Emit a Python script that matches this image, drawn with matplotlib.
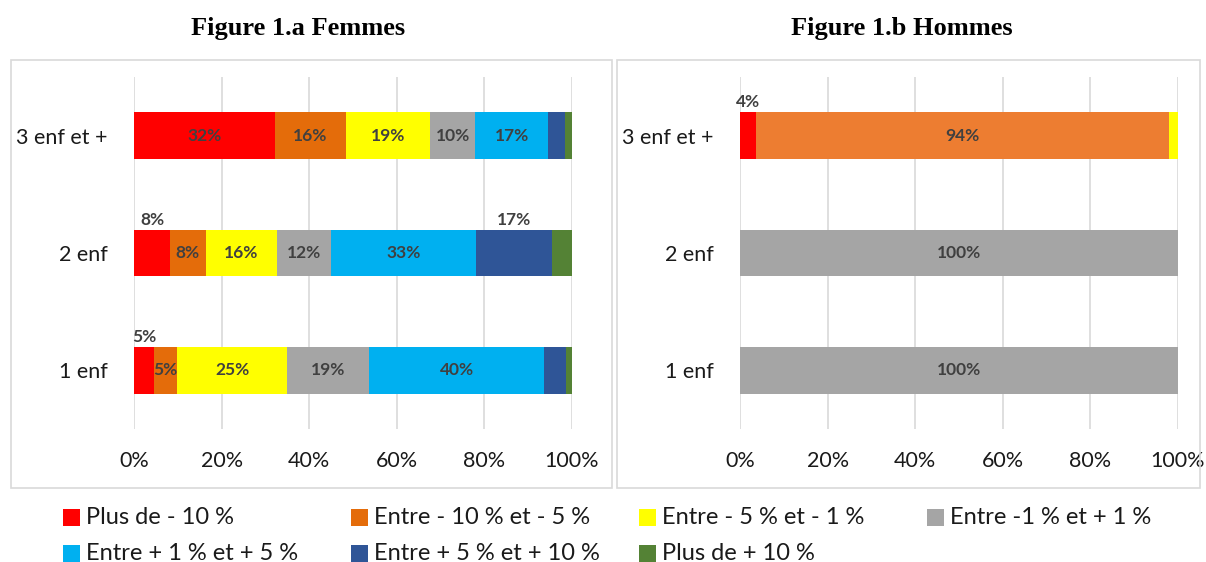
import matplotlib
matplotlib.use("Agg")
import matplotlib.pyplot as plt
from matplotlib.patches import Rectangle

# --- data -----------------------------------------------------------------
categories = ["1 enf", "2 enf", "3 enf et +"]

series_names = [
    "Plus de - 10 %",
    "Entre - 10 % et - 5 %",
    "Entre - 5 % et - 1 %",
    "Entre -1 % et + 1 %",
    "Entre + 1 % et + 5 %",
    "Entre + 5 % et + 10 %",
    "Plus de + 10 %",
]

# rows follow `categories`, columns follow `series_names` (shares in %)
femmes = [
    [4.6, 5.3, 25.0, 18.8, 40.0, 5.0, 1.3],
    [8.2, 8.2, 16.3, 12.3, 33.1, 17.4, 4.5],
    [32.2, 16.2, 19.2, 10.3, 16.6, 4.0, 1.5],
]
hommes = [
    [0.0, 0.0, 0.0, 100.0, 0.0, 0.0, 0.0],
    [0.0, 0.0, 0.0, 100.0, 0.0, 0.0, 0.0],
    [3.6, 94.4, 2.0, 0.0, 0.0, 0.0, 0.0],
]

# where each value label goes: "in" = centred in bar, "up" = above it, "" = none
femmes_lbl = [
    ["up", "in", "in", "in", "in", "", ""],
    ["up", "in", "in", "in", "in", "up", ""],
    ["in", "in", "in", "in", "in", "", ""],
]
hommes_lbl = [
    ["", "", "", "in", "", "", ""],
    ["", "", "", "in", "", "", ""],
    ["up", "in", "", "", "", "", ""],
]

# --- style ----------------------------------------------------------------
COLORS = ["#FF0000", "#E46C0A", "#FFFF00", "#A5A5A5", "#00B0F0", "#2F5597", "#548235"]
COLORS_H = ["#FF0000", "#ED7D31", "#FFFF00", "#A5A5A5", "#00B0F0", "#2F5597", "#548235"]
GRID = "#D9D9D9"
LBL = "#404040"
SANS = "Lato"

W, H = 1206, 562


def fx(px):
    return px / W


def fy(py):
    return 1 - py / H


def draw_panel(ax, data, labels, colors):
    left = [0.0] * len(categories)
    for j in range(len(series_names)):
        vals = [row[j] for row in data]
        ax.barh(range(len(categories)), vals, left=left, height=0.4,
                color=colors[j], edgecolor="none", zorder=2)
        for i, v in enumerate(vals):
            mode = labels[i][j]
            cx = left[i] + v / 2
            if mode == "in":
                ax.text(cx, i, "%d%%" % round(v), ha="center", va="center",
                        fontsize=12.5, fontweight="bold", color=LBL,
                        family=SANS, zorder=3)
            elif mode == "up":
                ax.text(cx, i + 0.215, "%d%%" % round(v), ha="center",
                        va="bottom", fontsize=12.5, fontweight="bold",
                        color=LBL, family=SANS, zorder=3)
            left[i] += v

    ax.set_xlim(0, 100)
    ax.set_ylim(-0.5, 2.5)
    ax.set_xticks(range(0, 101, 20))
    ax.set_xticklabels(["%d%%" % t for t in range(0, 101, 20)])
    ax.set_yticks(range(len(categories)))
    ax.set_yticklabels(categories)
    ax.grid(axis="x", color=GRID, linewidth=1.2, zorder=0)
    ax.set_axisbelow(True)
    for s in ax.spines.values():
        s.set_visible(False)
    ax.tick_params(length=0, labelsize=15.5, colors="#1A1A1A")
    ax.tick_params(axis="x", pad=16)
    ax.tick_params(axis="y", pad=19)
    for t in ax.get_xticklabels() + ax.get_yticklabels():
        t.set_family(SANS)


fig = plt.figure(figsize=(W / 100, H / 100), dpi=100)

ax_f = fig.add_axes([fx(134), fy(429), fx(572) - fx(134), fy(77) - fy(429)])
ax_h = fig.add_axes([fx(740), fy(429), fx(1178) - fx(740), fy(77) - fy(429)])
draw_panel(ax_f, femmes, femmes_lbl, COLORS)
draw_panel(ax_h, hommes, hommes_lbl, COLORS_H)

# chart-area frames
for x0, x1 in [(11, 612), (617, 1200)]:
    fig.add_artist(Rectangle((fx(x0), fy(488)), fx(x1) - fx(x0), fy(60) - fy(488),
                             transform=fig.transFigure, fill=False,
                             edgecolor=GRID, linewidth=1.2))

fig.text(fx(298), fy(28), "Figure 1.a Femmes", ha="center", va="center",
         fontsize=19, fontweight="bold", family="Liberation Serif")
fig.text(fx(902), fy(28), "Figure 1.b Hommes", ha="center", va="center",
         fontsize=19, fontweight="bold", family="Liberation Serif")

# legend, laid out row by row in fixed-width columns
for k, (name, col) in enumerate(zip(series_names, COLORS)):
    r, c = divmod(k, 4)
    x = 63 + c * 288
    y = 517 + r * 36
    fig.add_artist(Rectangle((fx(x), fy(y + 8.5)), fx(17), 17 / H,
                             transform=fig.transFigure, facecolor=col,
                             edgecolor="none"))
    fig.text(fx(x + 23), fy(y), name, ha="left", va="center",
             fontsize=17, family=SANS, color="#1A1A1A")

fig.savefig("out.png", dpi=100)
